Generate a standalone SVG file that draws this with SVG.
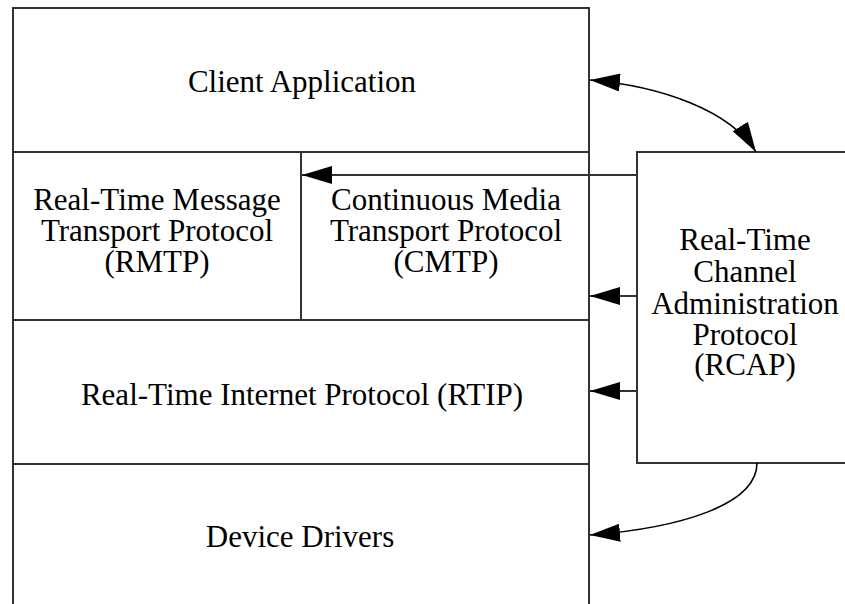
<svg xmlns="http://www.w3.org/2000/svg" width="845" height="604" viewBox="0 0 845 604">
<style>
.box{fill:#fff;stroke:#333;stroke-width:2}
.t{font-family:"Liberation Serif","Times New Roman",serif;font-size:31px;fill:#000;text-anchor:middle}
.c{fill:none;stroke:#000;stroke-width:1.6}
.s{fill:none;stroke:#333;stroke-width:2}
</style>
<defs>
<marker id="ah" viewBox="0 0 30 18" refX="30" refY="9" markerWidth="30" markerHeight="18" markerUnits="userSpaceOnUse" orient="auto-start-reverse">
<path d="M0,0 L30,9 L0,18 z" fill="#000"/>
</marker>
</defs>
<rect width="845" height="604" fill="#fff"/>
<g id="client">
<rect class="box" x="13" y="8" width="576" height="144"/>
<text class="t" x="302" y="92">Client Application</text>
</g>
<g id="rmtp">
<rect class="box" x="13" y="152" width="288" height="168"/>
<text class="t" x="157" y="210">Real-Time Message</text>
<text class="t" x="157" y="241">Transport Protocol</text>
<text class="t" x="157" y="272">(RMTP)</text>
</g>
<g id="cmtp">
<rect class="box" x="301" y="152" width="288" height="168"/>
<text class="t" x="446" y="210">Continuous Media</text>
<text class="t" x="446" y="241">Transport Protocol</text>
<text class="t" x="446" y="272">(CMTP)</text>
</g>
<g id="rtip">
<rect class="box" x="13" y="320" width="576" height="144"/>
<text class="t" x="302" y="405">Real-Time Internet Protocol (RTIP)</text>
</g>
<g id="drivers">
<rect class="box" x="13" y="464" width="576" height="150"/>
<text class="t" x="300" y="547">Device Drivers</text>
</g>
<g id="rcap">
<rect class="box" x="637" y="152" width="230" height="311"/>
<text class="t" x="745" y="250">Real-Time</text>
<text class="t" x="745" y="282">Channel</text>
<text class="t" x="745" y="314">Administration</text>
<text class="t" x="745" y="345">Protocol</text>
<text class="t" x="745" y="375">(RCAP)</text>
</g>
<g id="connectors">
<path class="c" d="M590,80 C660,86 730,110 756,152" marker-start="url(#ah)" marker-end="url(#ah)"/>
<path class="s" d="M637,175 L302,175" marker-end="url(#ah)"/>
<path class="s" d="M637,296 L590,296" marker-end="url(#ah)"/>
<path class="s" d="M637,391 L590,391" marker-end="url(#ah)"/>
<path class="c" d="M757,463 C757,505 680,528 590,535" marker-end="url(#ah)"/>
</g>
</svg>
